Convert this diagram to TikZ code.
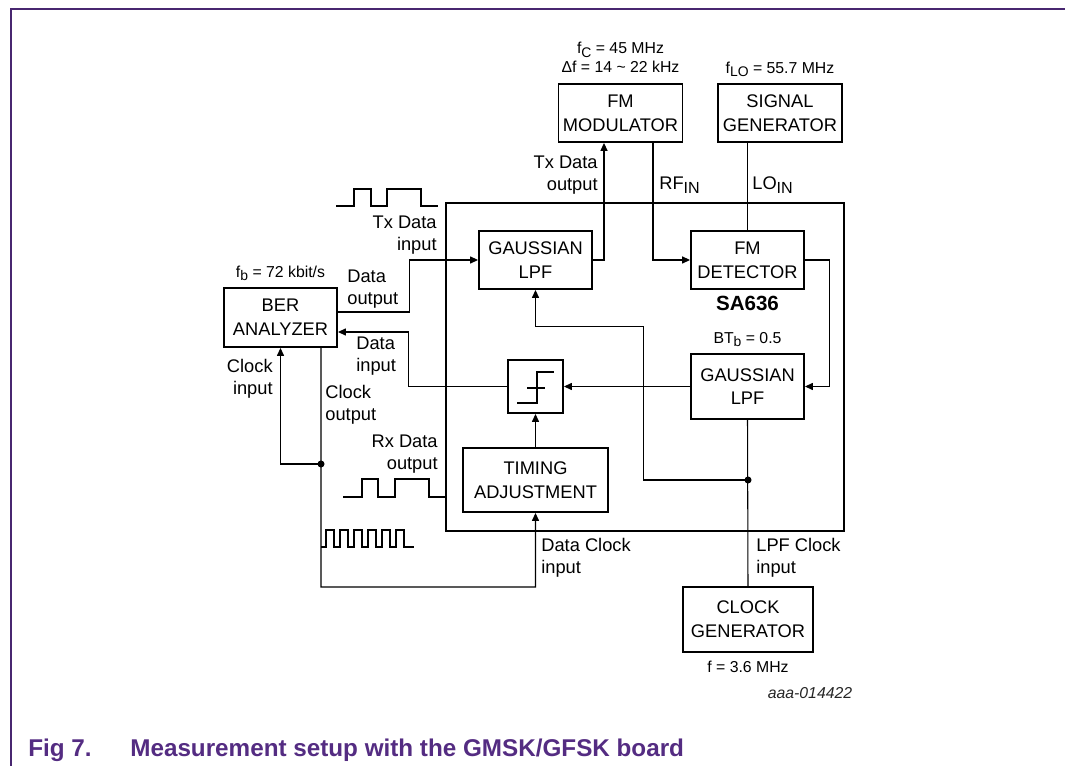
\documentclass[tikz,border=0pt]{standalone}
\usepackage{fontspec}
\setmainfont{Liberation Sans}
\usepackage{xcolor}
\usetikzlibrary{arrows.meta, positioning, calc}
\definecolor{nxppurple}{RGB}{84,44,130}
\definecolor{framepurple}{RGB}{72,38,112}
\newcommand{\lsub}[1]{\raisebox{-0.4ex}{\scalebox{0.88}{#1}}}
\tikzset{
  %% Block
  blk/.style={
    rectangle, draw=black, fill=white,
    line width=1.1pt, align=center, inner sep=0pt,
    font=\fontsize{10.4}{13.5}\selectfont
  },
  %% Arrow and plain wire
  arr/.style={-{Triangle[length=4.5pt,width=4pt]},
              draw=black, line width=0.6pt},
  wire/.style={draw=black, line width=0.6pt},
  %% Square waves
  wave/.style={draw=black, line width=1.2pt},
  %% Labels
  lbl/.style={inner sep=0pt, font=\fontsize{10.4}{12.5}\selectfont},
  note/.style={inner sep=0pt, font=\fontsize{9}{10.8}\selectfont},
  jdot/.style={circle, fill=black, inner sep=0pt, minimum size=4pt},
}

\begin{document}
\begin{tikzpicture}[x=0.02cm, y=-0.02cm]

  \useasboundingbox (0,0) rectangle (1065,766);

  %% Page frame
  \draw[framepurple, line width=0.9pt] (11,766) -- (11,9) -- (1065,9);

  %% SA636 board
  \node[draw, line width=1.6pt, minimum width=7.96cm,
        minimum height=6.56cm, inner sep=0pt] (chip) at (645,367) {};

  \node[blk, minimum width=2.48cm, minimum height=1.16cm] (fmmod)
       at (620.5,113) {FM\\MODULATOR};
  \node[blk, minimum width=2.48cm, minimum height=1.16cm] (siggen)
       at (780,113) {SIGNAL\\GENERATOR};

  \node[blk, minimum width=2.26cm, minimum height=1.16cm] (lpftx)
       at (535.5,260) {GAUSSIAN\\LPF};
  \node[blk, minimum width=2.26cm, minimum height=1.16cm] (fmdet)
       at (747.5,260) {FM\\DETECTOR};
  \node[blk, minimum width=2.26cm, minimum height=1.30cm] (lpfrx)
       at (747.5,386.5) {GAUSSIAN\\LPF};
  \node[blk, minimum width=1.10cm, minimum height=1.06cm] (slicer)
       at (535.5,386.5) {};
  \node[blk, minimum width=2.90cm, minimum height=1.28cm] (timing)
       at (535.5,480) {TIMING\\ADJUSTMENT};

  \node[blk, minimum width=2.26cm, minimum height=1.18cm] (ber)
       at (280.5,317.5) {BER\\ANALYZER};
  \node[blk, minimum width=2.60cm, minimum height=1.30cm] (clkgen)
       at (748,619.5) {CLOCK\\GENERATOR};

  %% Slicer symbol
  \begin{scope}[shift={(slicer.center)}, line width=1.1pt]
    \draw (-18.5,16.5) -- (1.5,16.5) -- (1.5,-14.5) -- (18.5,-14.5);
    \draw (-8.5,1.5) -- (9.5,1.5);
  \end{scope}

  %% Annotations
  \node[note, align=center, above=0.2cm of fmmod] (fmspec)
       {f\lsub{C} = 45 MHz\\Δf = 14 \textasciitilde{} 22 kHz};
  \node[note, above=0.12cm of siggen] (lospec)
       {f\lsub{LO} = 55.7 MHz};
  \node[note, above=0.12cm of ber] (bitrate)
       {f\lsub{b} = 72 kbit/s};
  \node[note, above=0.12cm of lpfrx] (btb) {BT\lsub{b} = 0.5};
  \node[inner sep=0pt, font=\bfseries\fontsize{11.7}{14}\selectfont,
        below=0.12cm of fmdet] (partno) {SA636};
  \node[note, below=0.16cm of clkgen] (clkfreq) {f = 3.6 MHz};
  \node[note, font=\fontsize{9}{10.8}\selectfont\itshape, text=black!85]
       (figid) at (810,693) {aaa-014422};

  \node[lbl, align=right, anchor=east] (txolbl) at (598,175)
       {Tx Data\\output};
  \node[lbl, anchor=west] (rflbl) at (659,185) {RF\lsub{IN}};
  \node[lbl, anchor=west] (lolbl) at (752,185) {LO\lsub{IN}};
  \node[lbl, align=right, anchor=east] (txilbl) at (437,235)
       {Tx Data\\input};
  \node[lbl, align=left, anchor=west] (dolbl) at (347,289)
       {Data\\output};
  \node[lbl, align=left, anchor=west] (dilbl) at (356,356)
       {Data\\input};
  \node[lbl, align=right, anchor=east] (cilbl) at (273,379)
       {Clock\\input};
  \node[lbl, align=left, anchor=west] (colbl) at (325,405)
       {Clock\\output};
  \node[lbl, align=right, anchor=east] (rxlbl) at (438,454)
       {Rx Data\\output};
  \node[lbl, align=left, anchor=west] (dclbl) at (541,558)
       {Data Clock\\input};
  \node[lbl, align=left, anchor=west] (lclbl) at (756,558)
       {LPF Clock\\input};

  %% Junctions
  \coordinate (clkj) at (321,464);
  \coordinate (clkb) at (321,587);
  \coordinate (lpfj) at (748,480);

  %% Connections
  \draw[arr] (lpftx.east) -| ([xshift=-0.33cm]fmmod.south);
  \draw[arr] ([xshift=0.65cm]fmmod.south) |- (fmdet.west);
  \draw[wire] (siggen.south -| fmdet.north) -- (fmdet.north);
  \draw[arr] (fmdet.east) -- ++(0.5cm,0) |- (lpfrx.east);
  \draw[arr] (lpfrx.west) -- (slicer.east);
  \draw[arr] (timing.north) -- (slicer.south);
  \draw[arr] (slicer.west) -- ++(-1.98cm,0) |- ([yshift=-0.29cm]ber.east);
  \draw[arr] ([yshift=0.11cm]ber.east) -- ++(1.44cm,0) |- (lpftx.west);
  \draw[arr] (clkj) -| (ber.south);
  \draw[arr] ([xshift=0.81cm]ber.south) -- (clkb) -| (timing.south);
  \draw[wire] (clkgen.north) -- (lpfrx.south);
  \draw[arr] (lpfj) -- ++(-2.1cm,0) |- ([yshift=-0.74cm]lpftx.south)
             -- (lpftx.south);
  \node[jdot] at (clkj) {};
  \node[jdot] at (lpfj) {};

  %% Square waves
  \draw[wave] (336,206) -- (354,206) -- (354,189) -- (371,189) -- (371,206)
              -- (387,206) -- (387,189) -- (421,189) -- (421,206) -- (438,206);
  \draw[wave] (343,497) -- (362,497) -- (362,479) -- (378,479) -- (378,497)
              -- (395,497) -- (395,479) -- (429,479) -- (429,497) -- (446,497);
  \draw[wave] (321,547) -- (326,547)
    \foreach \i in {0,...,5} { -- ++(0,-17) -- ++(8,0) -- ++(0,17) -- ++(6,0) }
    -- ++(4,0);

  %% Caption
  \node[anchor=base west, inner sep=0pt, text=nxppurple,
        font=\bfseries\fontsize{13.8}{16}\selectfont] (fignum)
       at (28,756) {Fig 7.};
  \node[anchor=base west, inner sep=0pt, text=nxppurple,
        font=\bfseries\fontsize{13.8}{16}\selectfont] (figcap)
       at (130,756) {Measurement setup with the GMSK/GFSK board};

\end{tikzpicture}
\end{document}
